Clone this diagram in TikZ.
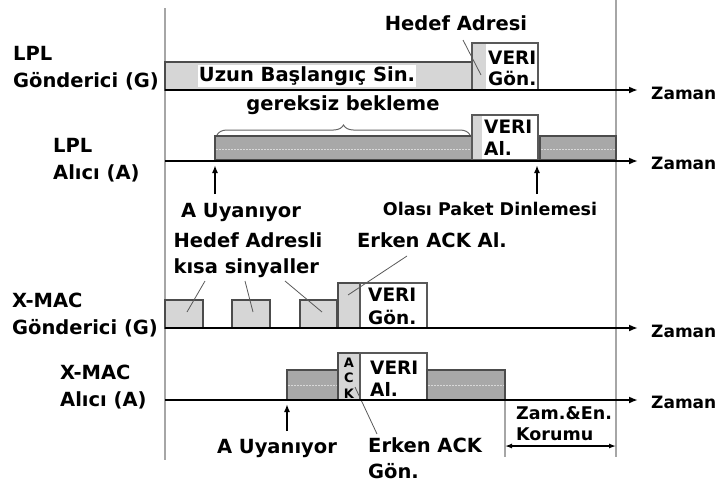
\documentclass[tikz,border=0pt]{standalone}
\usepackage{fontspec}
\setmainfont{DejaVu Sans}
\usetikzlibrary{arrows.meta,decorations.pathreplacing}
\begin{document}
\begin{tikzpicture}[x=1pt,y=-1pt,
  lbl/.style={font=\bfseries\fontsize{19.5}{26}\selectfont, inner sep=0pt, align=left},
  side/.style={font=\bfseries\fontsize{19.5}{27.5}\selectfont, inner sep=0pt, align=left, anchor=west},
  vtxt/.style={font=\bfseries\fontsize{18.5}{20}\selectfont, inner sep=0pt, anchor=west},
  sm/.style={font=\bfseries\fontsize{17.5}{21}\selectfont, inner sep=0pt, align=left},
  zt/.style={font=\bfseries\fontsize{17}{20}\selectfont, inner sep=0pt, anchor=west},
  axis/.style={line width=2pt, -{Latex[length=9pt,width=7pt]}},
  light/.style={fill=black!16, draw=black!70, line width=1.2pt},
  busy/.style={fill=black!34, draw=black!70, line width=1.2pt},
  midline/.style={draw=black!15, line width=0.8pt, dash pattern=on 1.5pt off 1.5pt},
  datab/.style={fill=white, draw=black!65, line width=1.5pt},
  strip/.style={fill=black!16},
  guide/.style={draw=black!35, line width=2pt},
  ptr/.style={draw=black!65, line width=0.8pt},
  wake/.style={line width=1.8pt, -{Latex[length=8pt,width=6pt]}},
  span/.style={line width=1.3pt, {Latex[length=7pt,width=5pt]}-{Latex[length=7pt,width=5pt]}}
]
\useasboundingbox (0,0) rectangle (720,488);

% guide lines
\draw[guide] (165,8) -- (165,460);
\draw[guide] (616,0) -- (616,457);
\draw[guide] (505,400) -- (505,457);

% ---------- LPL sender ----------
\draw[light] (165,62) rectangle (472,90);
\node[lbl, fill=white, inner sep=1pt] (uzun) at (307,76) {Uzun Başlangıç Sin.};
\draw[datab] (472,43) rectangle (538,90);
\fill[strip] (473,44) rectangle (486,89);
\node[vtxt] (veri1) at (488,58) {VERI};
\node[vtxt] (gon1) at (488,78) {Gön.};
\node[lbl] (hedef) at (456,23) {Hedef Adresi};
\coordinate (h1) at (463,40);
\coordinate (h2) at (481,75);
\draw[ptr] (h1) -- (h2);

% ---------- LPL receiver ----------
\draw[busy] (215,136) rectangle (472,160);
\draw[midline] (216,149) -- (471,149);
\draw[datab] (472,115) rectangle (538,160);
\fill[strip] (473,116) rectangle (482,159);
\node[vtxt] (veri2) at (484,127) {VERI};
\node[vtxt] (al2) at (484,148) {Al.};
\draw[busy] (540,136) rectangle (616,160);
\draw[midline] (541,149) -- (615,149);
\draw[decorate, decoration={brace, amplitude=10pt}, draw=black!60, line width=1pt] (217,135) -- (470,135);
\node[lbl] (gereksiz) at (343,105) {gereksiz bekleme};

\coordinate (w1a) at (215,194);
\coordinate (w1b) at (215,165);
\draw[wake] (w1a) -- (w1b);
\node[lbl] (uyan1) at (241,212) {A Uyanıyor};
\coordinate (o1a) at (537,194);
\coordinate (o1b) at (537,165);
\draw[wake] (o1a) -- (o1b);
\node[sm] (olasi) at (490,209) {Olası Paket Dinlemesi};

% ---------- X-MAC sender ----------
\node[lbl] (kisa) at (248,255) {Hedef Adresli\\kısa sinyaller};
\node[lbl] (erkenal) at (432,240) {Erken ACK Al.};
\draw[light] (165,300) rectangle (203,328);
\draw[light] (232,300) rectangle (270,328);
\draw[light] (300,300) rectangle (337,328);
\draw[light] (338,283) rectangle (360,328);
\draw[datab] (360,283) rectangle (427,328);
\node[vtxt] (veri3) at (368,295) {VERI};
\node[vtxt] (gon3) at (368,317) {Gön.};
\coordinate (p1) at (187,312);
\coordinate (p2) at (253,312);
\coordinate (p3) at (322,312);
\coordinate (p4) at (348,295);
\draw[ptr] (205,281) -- (p1);
\draw[ptr] (245,281) -- (p2);
\draw[ptr] (285,281) -- (p3);
\draw[ptr] (407,256) -- (p4);

% ---------- X-MAC receiver ----------
\draw[busy] (287,370) rectangle (338,400);
\draw[midline] (288,385) -- (337,385);
\draw[light] (338,353) rectangle (360,400);
\node[font=\bfseries\fontsize{13}{15.5}\selectfont, inner sep=0pt, align=center] (ack) at (349,378) {A\\C\\K};
\draw[datab] (360,353) rectangle (427,400);
\node[vtxt] (veri4) at (370,368) {VERI};
\node[vtxt] (al4) at (370,389) {Al.};
\draw[busy] (427,370) rectangle (505,400);
\draw[midline] (428,385) -- (504,385);

\coordinate (w2a) at (287,431);
\coordinate (w2b) at (287,404);
\draw[wake] (w2a) -- (w2b);
\node[lbl] (uyan2) at (277,448) {A Uyanıyor};
\node[lbl, anchor=north west] (erkengon) at (368,437) {Erken ACK\\Gön.};
\coordinate (e1) at (355,387);
\coordinate (e2) at (377,434);
\draw[ptr] (e1) -- (e2);

\node[sm, anchor=north west] (koruma) at (516,406) {Zam.\&En.\\Korumu};
\coordinate (k1) at (505,446);
\coordinate (k2) at (616,446);
\draw[span] (k1) -- (k2);

% ---------- axes ----------
\coordinate (a1s) at (165,90);  \coordinate (a1e) at (638,90);
\coordinate (a2s) at (165,161); \coordinate (a2e) at (638,161);
\coordinate (a3s) at (165,328); \coordinate (a3e) at (638,328);
\coordinate (a4s) at (165,400); \coordinate (a4e) at (638,400);
\draw[axis] (a1s) -- (a1e);
\draw[axis] (a2s) -- (a2e);
\draw[axis] (a3s) -- (a3e);
\draw[axis] (a4s) -- (a4e);
\node[zt] (z1) at (651,93) {Zaman};
\node[zt] (z2) at (651,163) {Zaman};
\node[zt] (z3) at (651,331) {Zaman};
\node[zt] (z4) at (651,402) {Zaman};

% ---------- side labels ----------
\node[side] (lplg) at (13,68) {LPL\\Gönderici (G)};
\node[side] (lpla) at (53,160) {LPL\\Alıcı (A)};
\node[side] (xg) at (12,315) {X-MAC\\Gönderici (G)};
\node[side] (xa) at (60,387) {X-MAC\\Alıcı (A)};
\end{tikzpicture}
\end{document}
